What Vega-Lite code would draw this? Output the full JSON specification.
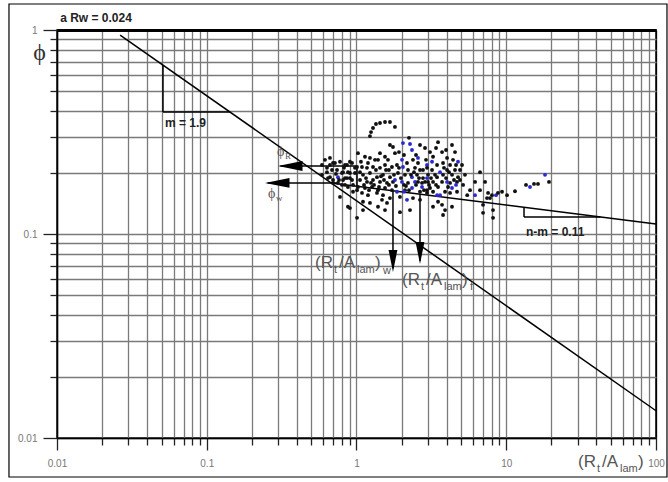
{
  "$schema": "https://vega.github.io/schema/vega-lite/v6.json",
  "width": 599,
  "height": 408,
  "autosize": {"type": "none"},
  "padding": {"left": 57, "top": 30, "right": 12, "bottom": 44},
  "background": "white",
  "config": {
    "view": {"stroke": "#000", "strokeWidth": 1.5},
    "axis": {"labelFont": "Liberation Sans", "labelFontSize": 10, "labelColor": "#777", "domainColor": "#000", "domainWidth": 1.5, "tickColor": "#222", "tickWidth": 1.3, "gridColor": "#7a7a7a", "gridWidth": 1.3, "labelOverlap": false, "labelFlush": false}
  },
  "datasets": {
    "pts": [
      {"x":1.23,"y":0.302,"g":"d"},{"x":1.25,"y":0.316,"g":"d"},{"x":1.289,"y":0.331,"g":"d"},{"x":1.349,"y":0.346,"g":"d"},{"x":1.435,"y":0.35,"g":"d"},{"x":1.55,"y":0.354,"g":"d"},{"x":1.673,"y":0.354,"g":"d"},{"x":1.806,"y":0.335,"g":"d"},
      {"x":1.673,"y":0.273,"g":"d"},{"x":1.752,"y":0.267,"g":"d"},{"x":2.043,"y":0.279,"g":"b"},{"x":2.276,"y":0.276,"g":"b"},{"x":2.347,"y":0.258,"g":"b"},{"x":1.921,"y":0.252,"g":"d"},{"x":1.806,"y":0.249,"g":"d"},{"x":1.55,"y":0.239,"g":"d"},{"x":1.435,"y":0.249,"g":"d"},{"x":1.023,"y":0.249,"g":"d"},{"x":1.139,"y":0.239,"g":"d"},{"x":3.503,"y":0.282,"g":"d"},{"x":3.726,"y":0.252,"g":"d"},{"x":2.867,"y":0.264,"g":"d"},{"x":4.548,"y":0.252,"g":"d"},{"x":3.244,"y":0.239,"g":"d"},{"x":4.024,"y":0.236,"g":"d"},{"x":1.23,"y":0.236,"g":"d"},{"x":1.329,"y":0.231,"g":"d"},{"x":2.012,"y":0.231,"g":"b"},
      {"x":4.41,"y":0.231,"g":"d"},{"x":4.763,"y":0.226,"g":"b"},{"x":2.957,"y":0.218,"g":"b"},{"x":3.45,"y":0.218,"g":"d"},{"x":3.784,"y":0.223,"g":"d"},{"x":4.214,"y":0.218,"g":"d"},{"x":2.173,"y":0.223,"g":"d"},{"x":2.383,"y":0.231,"g":"d"},{"x":2.574,"y":0.223,"g":"d"},{"x":0.616,"y":0.231,"g":"d"},{"x":0.697,"y":0.223,"g":"d"},{"x":0.776,"y":0.226,"g":"d"},{"x":0.864,"y":0.218,"g":"d"},{"x":0.933,"y":0.223,"g":"d"},{"x":1.008,"y":0.213,"g":"d"},{"x":1.088,"y":0.213,"g":"d"},{"x":1.175,"y":0.211,"g":"d"},{"x":1.289,"y":0.213,"g":"d"},{"x":1.435,"y":0.211,"g":"d"},{"x":1.55,"y":0.218,"g":"d"},{"x":1.725,"y":0.213,"g":"d"},{"x":1.863,"y":0.218,"g":"d"},{"x":2.043,"y":0.213,"g":"b"},{"x":0.665,"y":0.218,"g":"d"},{"x":0.718,"y":0.223,"g":"d"},{"x":0.838,"y":0.218,"g":"d"},{"x":0.904,"y":0.226,"g":"d"},
      {"x":2.207,"y":0.206,"g":"d"},{"x":2.458,"y":0.211,"g":"d"},{"x":2.655,"y":0.206,"g":"d"},{"x":2.957,"y":0.211,"g":"d"},{"x":2.78,"y":0.206,"g":"d"},{"x":3.194,"y":0.206,"g":"d"},{"x":3.613,"y":0.201,"g":"b"},{"x":4.024,"y":0.206,"g":"d"},{"x":4.548,"y":0.206,"g":"d"},{"x":4.911,"y":0.206,"g":"d"},{"x":0.635,"y":0.211,"g":"d"},{"x":0.741,"y":0.206,"g":"d"},{"x":0.813,"y":0.201,"g":"d"},{"x":0.904,"y":0.199,"g":"d"},{"x":0.977,"y":0.199,"g":"d"},{"x":1.105,"y":0.195,"g":"d"},{"x":1.23,"y":0.199,"g":"d"},{"x":1.37,"y":0.19,"g":"d"},{"x":1.503,"y":0.195,"g":"d"},{"x":1.673,"y":0.19,"g":"d"},{"x":1.892,"y":0.199,"g":"d"},{"x":2.107,"y":0.195,"g":"d"},{"x":2.347,"y":0.19,"g":"b"},{"x":2.535,"y":0.195,"g":"d"},{"x":2.78,"y":0.188,"g":"d"},{"x":3.003,"y":0.195,"g":"d"},{"x":3.45,"y":0.19,"g":"d"},{"x":3.784,"y":0.195,"g":"d"},{"x":4.343,"y":0.195,"g":"d"},{"x":4.763,"y":0.19,"g":"d"},{"x":0.588,"y":0.195,"g":"d"},{"x":0.665,"y":0.19,"g":"d"},{"x":0.752,"y":0.19,"g":"b"},{"x":0.838,"y":0.188,"g":"d"},{"x":0.635,"y":0.201,"g":"d"},{"x":0.686,"y":0.206,"g":"d"},{"x":0.8,"y":0.199,"g":"d"},{"x":0.877,"y":0.201,"g":"d"},
      {"x":0.933,"y":0.184,"g":"d"},{"x":1.055,"y":0.184,"g":"d"},{"x":1.175,"y":0.18,"g":"d"},{"x":1.289,"y":0.184,"g":"d"},{"x":1.435,"y":0.18,"g":"d"},{"x":1.598,"y":0.178,"g":"d"},{"x":1.752,"y":0.18,"g":"d"},{"x":2.012,"y":0.18,"g":"b"},{"x":2.207,"y":0.178,"g":"d"},{"x":2.458,"y":0.18,"g":"b"},{"x":2.738,"y":0.178,"g":"d"},{"x":3.003,"y":0.18,"g":"d"},{"x":4.911,"y":0.184,"g":"d"},{"x":2.867,"y":0.18,"g":"d"},{"x":3.244,"y":0.18,"g":"d"},{"x":3.726,"y":0.18,"g":"d"},{"x":4.214,"y":0.178,"g":"d"},{"x":4.69,"y":0.18,"g":"d"},{"x":0.697,"y":0.178,"g":"d"},{"x":0.8,"y":0.174,"g":"d"},{"x":0.877,"y":0.17,"g":"d"},{"x":1.023,"y":0.17,"g":"d"},{"x":1.139,"y":0.168,"g":"d"},{"x":1.269,"y":0.17,"g":"d"},{"x":1.392,"y":0.164,"g":"d"},{"x":1.55,"y":0.168,"g":"d"},{"x":0.645,"y":0.188,"g":"d"},{"x":0.697,"y":0.184,"g":"d"},{"x":0.813,"y":0.184,"g":"d"},{"x":0.904,"y":0.188,"g":"d"},{"x":0.752,"y":0.178,"g":"d"},{"x":0.838,"y":0.174,"g":"d"},{"x":0.948,"y":0.174,"g":"d"},{"x":1.008,"y":0.164,"g":"d"},{"x":2.738,"y":0.17,"g":"b"},{"x":3.097,"y":0.168,"g":"d"},{"x":3.503,"y":0.17,"g":"d"},{"x":4.343,"y":0.168,"g":"b"},
      {"x":1.725,"y":0.164,"g":"d"},{"x":1.863,"y":0.161,"g":"b"},{"x":2.107,"y":0.164,"g":"d"},{"x":2.347,"y":0.168,"g":"b"},{"x":2.655,"y":0.161,"g":"d"},{"x":2.957,"y":0.164,"g":"d"},{"x":0.948,"y":0.161,"g":"d"},{"x":1.088,"y":0.159,"g":"d"},{"x":1.193,"y":0.155,"g":"d"},{"x":1.37,"y":0.159,"g":"d"},{"x":1.503,"y":0.155,"g":"d"},{"x":1.673,"y":0.15,"g":"d"},{"x":1.951,"y":0.152,"g":"d"},{"x":2.173,"y":0.147,"g":"b"},{"x":2.383,"y":0.15,"g":"d"},{"x":2.655,"y":0.147,"g":"d"},{"x":3.902,"y":0.161,"g":"d"},{"x":3.244,"y":0.161,"g":"d"},{"x":3.613,"y":0.155,"g":"b"},{"x":4.214,"y":0.159,"g":"d"},{"x":2.957,"y":0.159,"g":"d"},{"x":4.69,"y":0.161,"g":"d"},{"x":1.48,"y":0.147,"g":"d"},{"x":0.776,"y":0.152,"g":"d"},
      {"x":1.598,"y":0.142,"g":"d"},{"x":1.392,"y":0.136,"g":"d"},{"x":1.105,"y":0.144,"g":"d"},{"x":1.23,"y":0.142,"g":"d"},{"x":1.55,"y":0.131,"g":"d"},{"x":2.276,"y":0.131,"g":"d"},{"x":0.904,"y":0.134,"g":"d"},{"x":1.105,"y":0.131,"g":"d"},{"x":0.877,"y":0.136,"g":"d"},{"x":3.726,"y":0.139,"g":"d"},{"x":3.902,"y":0.131,"g":"d"},{"x":4.343,"y":0.136,"g":"d"},{"x":3.503,"y":0.144,"g":"d"},{"x":3.784,"y":0.124,"g":"d"},{"x":3.244,"y":0.136,"g":"d"},{"x":1.008,"y":0.12,"g":"d"},{"x":1.951,"y":0.128,"g":"d"},
      {"x":6.68,"y":0.201,"g":"d"},{"x":6.19,"y":0.18,"g":"d"},{"x":7.22,"y":0.18,"g":"d"},{"x":6.68,"y":0.164,"g":"d"},{"x":5.73,"y":0.164,"g":"d"},{"x":6.19,"y":0.155,"g":"b"},{"x":5.487,"y":0.155,"g":"d"},{"x":7.44,"y":0.15,"g":"d"},{"x":7.79,"y":0.15,"g":"d"},{"x":8.03,"y":0.155,"g":"d"},{"x":8.54,"y":0.155,"g":"b"},{"x":8.8,"y":0.159,"g":"d"},{"x":9.37,"y":0.161,"g":"d"},{"x":10.12,"y":0.155,"g":"d"},{"x":11.44,"y":0.162,"g":"d"},{"x":7.56,"y":0.159,"g":"d"},{"x":7.0,"y":0.139,"g":"d"},{"x":8.16,"y":0.131,"g":"d"},{"x":8.16,"y":0.12,"g":"d"},{"x":7.0,"y":0.127,"g":"d"},{"x":13.55,"y":0.174,"g":"d"},{"x":14.41,"y":0.17,"g":"b"},{"x":15.32,"y":0.176,"g":"d"},{"x":16.29,"y":0.176,"g":"d"},{"x":18.15,"y":0.195,"g":"b"},{"x":19.3,"y":0.18,"g":"d"},{"x":5.065,"y":0.218,"g":"d"},{"x":5.3,"y":0.195,"g":"d"},{"x":5.15,"y":0.174,"g":"d"},{"x":0.665,"y":0.236,"g":"d"},{"x":0.588,"y":0.218,"g":"d"},
      {"x":0.977,"y":0.211,"g":"d"},{"x":1.055,"y":0.201,"g":"d"},{"x":1.157,"y":0.188,"g":"d"},{"x":1.25,"y":0.178,"g":"d"},{"x":1.349,"y":0.206,"g":"d"},{"x":1.457,"y":0.192,"g":"d"},{"x":1.574,"y":0.206,"g":"d"},{"x":1.647,"y":0.174,"g":"d"},{"x":1.779,"y":0.195,"g":"d"},{"x":1.834,"y":0.172,"g":"d"},{"x":1.98,"y":0.188,"g":"d"},{"x":2.14,"y":0.172,"g":"d"},{"x":2.311,"y":0.195,"g":"d"},{"x":2.497,"y":0.174,"g":"d"},{"x":2.614,"y":0.188,"g":"d"},{"x":2.823,"y":0.164,"g":"d"},{"x":3.05,"y":0.174,"g":"d"},{"x":3.345,"y":0.195,"g":"d"},{"x":3.397,"y":0.174,"g":"d"},{"x":3.962,"y":0.188,"g":"d"},{"x":4.087,"y":0.17,"g":"d"},{"x":4.478,"y":0.184,"g":"d"},{"x":0.825,"y":0.211,"g":"d"},{"x":0.764,"y":0.184,"g":"d"},{"x":0.729,"y":0.197,"g":"d"},{"x":0.864,"y":0.188,"g":"d"},{"x":1.122,"y":0.174,"g":"d"},{"x":1.212,"y":0.164,"g":"d"},{"x":1.309,"y":0.174,"g":"d"},{"x":1.413,"y":0.17,"g":"d"},{"x":1.526,"y":0.184,"g":"d"},{"x":1.647,"y":0.206,"g":"d"},{"x":1.921,"y":0.211,"g":"d"},{"x":2.075,"y":0.174,"g":"d"},{"x":2.241,"y":0.164,"g":"d"},{"x":2.42,"y":0.201,"g":"d"},{"x":2.574,"y":0.18,"g":"d"},{"x":2.912,"y":0.231,"g":"d"},{"x":3.145,"y":0.188,"g":"d"},{"x":3.84,"y":0.211,"g":"d"},{"x":4.15,"y":0.201,"g":"d"},{"x":4.62,"y":0.218,"g":"d"},{"x":1.071,"y":0.226,"g":"d"},{"x":1.193,"y":0.223,"g":"d"},{"x":1.392,"y":0.231,"g":"d"},{"x":1.622,"y":0.231,"g":"d"},{"x":2.075,"y":0.244,"g":"d"},{"x":2.497,"y":0.244,"g":"d"},{"x":3.097,"y":0.252,"g":"d"},{"x":3.397,"y":0.264,"g":"d"},{"x":3.962,"y":0.258,"g":"d"},{"x":2.655,"y":0.273,"g":"d"},{"x":2.241,"y":0.296,"g":"d"},{"x":4.343,"y":0.273,"g":"d"},
      {"x":2.574,"y":0.236,"g":"b"},{"x":3.194,"y":0.226,"g":"b"},{"x":4.024,"y":0.18,"g":"b"},{"x":1.806,"y":0.184,"g":"b"},{"x":3.45,"y":0.155,"g":"b"},{"x":4.62,"y":0.174,"g":"b"},{"x":2.075,"y":0.161,"g":"b"},{"x":2.957,"y":0.188,"g":"b"}
    ],
    "segs": [
      {"x":0.0264,"y":0.945,"x2":100,"y2":0.0136},
      {"x":0.6755,"y":0.1778,"x2":100,"y2":0.112},
      {"x":0.051,"y":0.673,"x2":0.051,"y2":0.396},
      {"x":0.051,"y":0.396,"x2":0.1428,"y2":0.396},
      {"x":13.14,"y":0.1351,"x2":13.14,"y2":0.1212},
      {"x":13.14,"y":0.1212,"x2":42.6,"y2":0.1212},
      {"x":1.008,"y":0.1714,"x2":1.008,"y2":0.2154},
      {"x":1.008,"y":0.2154,"x2":0.31,"y2":0.2154},
      {"x":0.741,"y":0.178,"x2":0.255,"y2":0.178},
      {"x":1.752,"y":0.1628,"x2":1.752,"y2":0.068},
      {"x":2.655,"y":0.1567,"x2":2.655,"y2":0.074}
    ],
    "frame": [{"x":0.004779,"y":1.341,"x2":118.4,"y2":0.00644}],
    "headsH": [{"x":0.299,"y":0.2154},{"x":0.2449,"y":0.178}],
    "headsV": [{"x":1.752,"y":0.0651},{"x":2.655,"y":0.0713}],
    "big": [
      {"x":0.528,"y":0.0721,"t":"(R"},{"x":0.764,"y":0.0721,"t":"/A"},{"x":1.329,"y":0.0721,"t":")"},
      {"x":2.013,"y":0.0595,"t":"(R"},{"x":2.912,"y":0.0595,"t":"/A"},{"x":5.065,"y":0.0595,"t":")"},
      {"x":30.14,"y":0.00763,"t":"(R"},{"x":43.6,"y":0.00763,"t":"/A"},{"x":75.8,"y":0.00763,"t":")"}
    ],
    "sub": [
      {"x":0.7075,"y":0.0666,"t":"t"},{"x":1.008,"y":0.0666,"t":"lam"},{"x":1.503,"y":0.0658,"t":"w"},
      {"x":2.696,"y":0.055,"t":"t"},{"x":3.84,"y":0.055,"t":"lam"},{"x":5.728,"y":0.055,"t":"f"},
      {"x":40.36,"y":0.00705,"t":"t"},{"x":57.5,"y":0.00705,"t":"lam"}
    ],
    "phi": [{"x":0.2944,"y":0.252,"t":"ϕ"},{"x":0.2565,"y":0.157,"t":"ϕ"}],
    "phisub": [{"x":0.333,"y":0.241,"t":"R"},{"x":0.29,"y":0.15,"t":"w"}],
    "notes": [{"x":0.0526,"y":0.35,"t":"m = 1.9"},{"x":13.55,"y":0.102,"t":"n-m = 0.11"},{"x":0.0105,"y":1.145,"t":"a Rw = 0.024"}]
  },
  "encoding": {
    "x": {
      "field": "x", "type": "quantitative",
      "scale": {"type": "log", "domain": [0.01, 100], "nice": false},
      "axis": {
        "title": null,
        "values": [0.01,0.02,0.03,0.04,0.05,0.06,0.07,0.08,0.09,0.1,0.2,0.3,0.4,0.5,0.6,0.7,0.8,0.9,1,2,3,4,5,6,7,8,9,10,20,30,40,50,60,70,80,90,100],
        "labelExpr": "indexof([0.01,0.1,1,10,100], datum.value) >= 0 ? format(datum.value, '~g') : ''",
        "tickSize": {"condition": {"test": "indexof([0.01,0.1,1,10,100], datum.value) >= 0", "value": 12}, "value": 7},
        "labelPadding": 8,
        "gridColor": {"condition": {"test": "datum.value === 100", "value": "#000"}, "value": "#7a7a7a"}
      }
    },
    "y": {
      "field": "y", "type": "quantitative",
      "scale": {"type": "log", "domain": [0.01, 1], "nice": false},
      "axis": {
        "title": "ϕ", "titleAngle": 0, "titleX": -18, "titleY": 22, "titleAlign": "center", "titleBaseline": "middle",
        "titleFont": "Liberation Serif", "titleFontSize": 24, "titleFontWeight": "normal", "titleColor": "#333",
        "values": [0.01,0.02,0.03,0.04,0.05,0.06,0.07,0.08,0.09,0.1,0.2,0.3,0.4,0.5,0.6,0.7,0.8,0.9,1],
        "labelExpr": "indexof([0.01,0.1,1], datum.value) >= 0 ? format(datum.value, '~g') : ''",
        "tickSize": {"condition": {"test": "indexof([0.01,0.1,1], datum.value) >= 0", "value": 14}, "value": 7},
        "labelPadding": 6,
        "gridColor": {"condition": {"test": "datum.value === 1", "value": "#000"}, "value": "#7a7a7a"},
        "gridWidth": {"condition": {"test": "datum.value === 1", "value": 3}, "value": 1.3}
      }
    }
  },
  "layer": [
    {"data": {"name": "frame"}, "mark": {"type": "rect", "fill": null, "fillOpacity": 0, "stroke": "#000", "strokeWidth": 1.2}, "encoding": {"x2": {"field": "x2"}, "y2": {"field": "y2"}}},
    {"data": {"name": "segs"}, "mark": {"type": "rule", "color": "#000", "strokeWidth": 1.5}, "encoding": {"x2": {"field": "x2"}, "y2": {"field": "y2"}}},
    {"data": {"name": "pts"}, "mark": {"type": "point", "filled": true, "size": 15, "opacity": 1},
     "encoding": {"color": {"field": "g", "type": "nominal", "scale": {"domain": ["d", "b"], "range": ["#111111", "#2a2ad0"]}, "legend": null}}},
    {"data": {"name": "headsH"}, "mark": {"type": "point", "shape": "M0,0L2,-0.4L2,0.4Z", "size": 600, "filled": true, "color": "#000", "opacity": 1, "strokeWidth": 0}},
    {"data": {"name": "headsV"}, "mark": {"type": "point", "shape": "M0,0L-0.4,-2L0.4,-2Z", "size": 484, "filled": true, "color": "#000", "opacity": 1, "strokeWidth": 0}},
    {"data": {"name": "big"}, "mark": {"type": "text", "align": "left", "baseline": "middle", "font": "Liberation Sans", "fontSize": 17, "color": "#555"}, "encoding": {"text": {"field": "t"}}},
    {"data": {"name": "sub"}, "mark": {"type": "text", "align": "left", "baseline": "middle", "font": "Liberation Sans", "fontSize": 11, "color": "#555"}, "encoding": {"text": {"field": "t"}}},
    {"data": {"name": "phi"}, "mark": {"type": "text", "align": "left", "baseline": "middle", "font": "Liberation Serif", "fontSize": 14, "color": "#555"}, "encoding": {"text": {"field": "t"}}},
    {"data": {"name": "phisub"}, "mark": {"type": "text", "align": "left", "baseline": "middle", "font": "Liberation Serif", "fontSize": 9, "color": "#555"}, "encoding": {"text": {"field": "t"}}},
    {"data": {"name": "notes"}, "mark": {"type": "text", "align": "left", "baseline": "middle", "font": "Liberation Sans", "fontSize": 12, "fontWeight": "bold", "color": "#222"}, "encoding": {"text": {"field": "t"}}}
  ]
}
